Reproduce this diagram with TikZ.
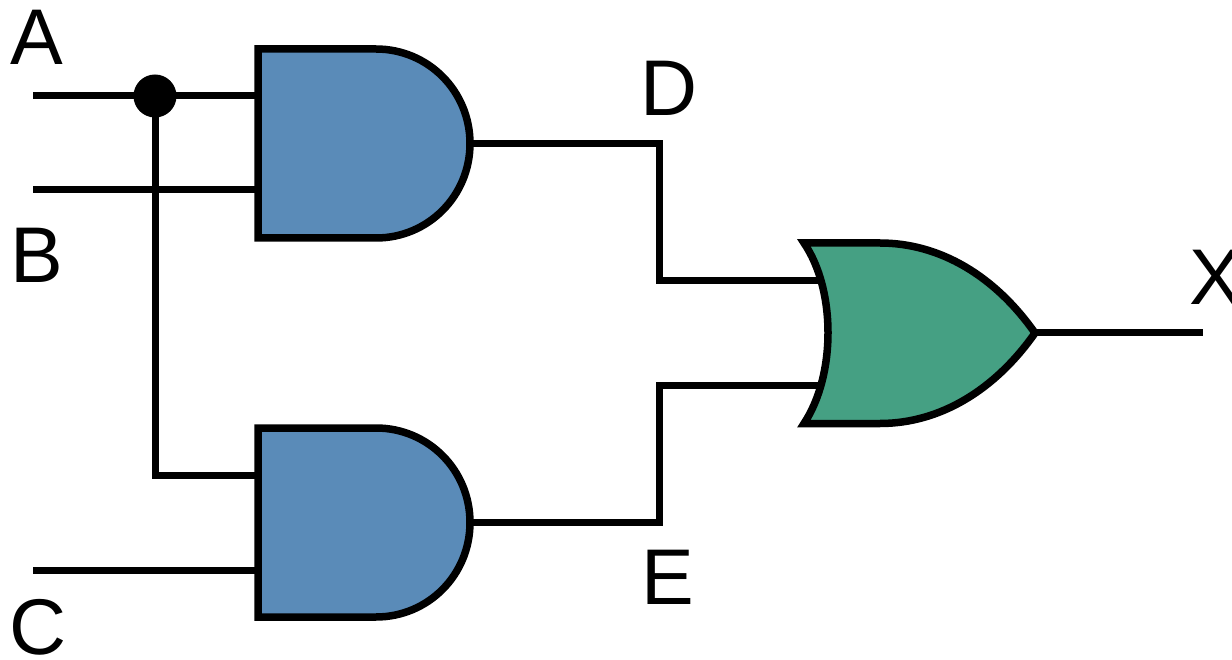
\documentclass[tikz,border=0pt]{standalone}
\usepackage{fontspec}
\setmainfont{Liberation Sans}
\definecolor{andblue}{HTML}{5A8BB8}
\definecolor{orgreen}{HTML}{45A083}
\tikzset{
 gateline/.style={draw=black,line width=7.5pt,line join=miter,miter limit=10},
 wire/.style={draw=black,line width=7pt,line join=miter},
 lbl/.style={inner sep=0pt,font=\fontsize{79}{79}\selectfont,anchor=base}
}
\begin{document}
\begin{tikzpicture}[x=1pt,y=-1pt]
\useasboundingbox (0,0) rectangle (1232,660);
\fill[white] (0,0) rectangle (1232,660);
\coordinate (a) at (33,96);
\coordinate (b) at (33,190);
\coordinate (c) at (33,570);
\coordinate (x) at (1203,333);
\coordinate (a1in) at (258,96);
\coordinate (b1in) at (258,190);
\coordinate (a2in) at (258,475);
\coordinate (c2in) at (258,570);
\coordinate (d) at (468,144);
\coordinate (e) at (468,522);
\coordinate (o1) at (825,281);
\coordinate (o2) at (825,385);
\coordinate (oo) at (1035,333);
\node[circle,fill=black,minimum size=43pt,inner sep=0pt] (j) at (155,96) {};
\draw[wire] (a) -- (a1in);
\draw[wire] (b) -- (b1in);
\draw[wire] (c) -- (c2in);
\draw[wire] (j.center) |- (a2in);
\draw[wire] (d) -| (659,281) -- (o1);
\draw[wire] (e) -| (659,385) -- (o2);
\draw[wire] (oo) -- (x);
\draw[gateline,fill=andblue] (258,49) -- (376,49) .. controls (428,49) and (470,91) .. (470,143.5) .. controls (470,196) and (428,238) .. (376,238) -- (258,238) -- cycle;
\draw[gateline,fill=andblue] (258,428) -- (376,428) .. controls (428,428) and (470,470) .. (470,522.5) .. controls (470,575) and (428,617) .. (376,617) -- (258,617) -- cycle;
\draw[gateline,fill=orgreen] (804,243) -- (880,243) .. controls (940,243) and (995,276) .. (1035,333) .. controls (995,390) and (940,423.5) .. (880,423.5) -- (804,423.5) .. controls (836,375) and (836,290) .. (804,243) -- cycle;
\node[lbl] (la) at (36.5,65) {A};
\node[lbl] (lb) at (37,283) {B};
\node[lbl] (lc) at (38.5,654) {C};
\node[lbl] (ld) at (669,116) {D};
\node[lbl] (le) at (668,604) {E};
\node[lbl] (lx) at (1216,305) {X};
\end{tikzpicture}
\end{document}
